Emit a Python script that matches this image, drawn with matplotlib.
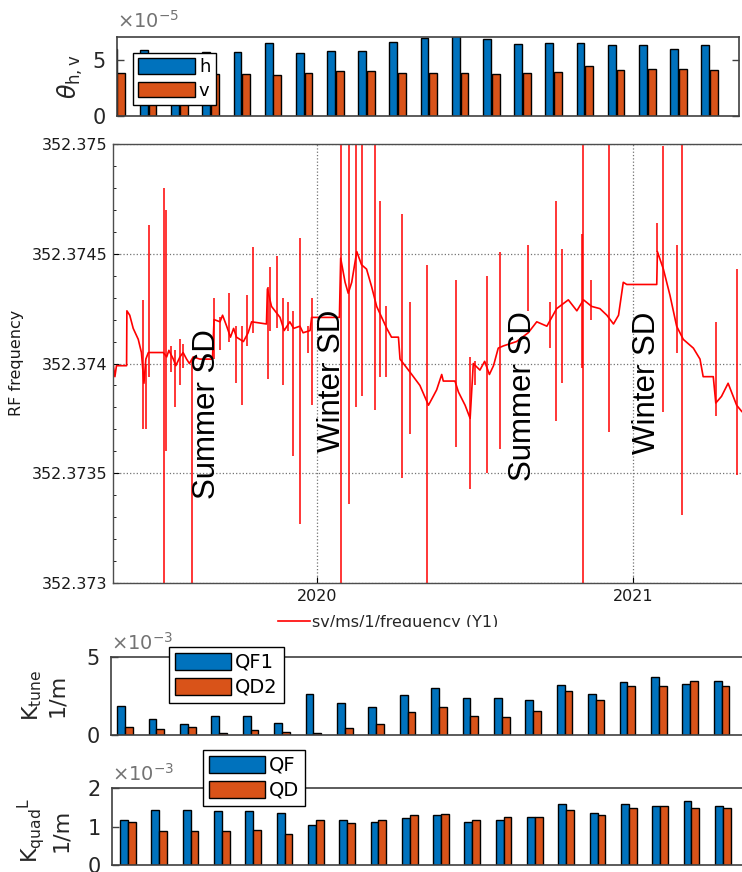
import matplotlib
matplotlib.use('Agg')
import matplotlib.pyplot as plt
from matplotlib.lines import Line2D
from matplotlib.transforms import Bbox, TransformedBbox
import numpy as np

# bar panel data (20 measurement groups)
groups = list(range(20))
# theta, units of 1e-5
theta_h = [5.90, 5.85, 5.40, 5.68, 5.65, 6.43, 5.59, 5.80, 5.80, 6.55,
           6.95, 7.10, 6.79, 6.40, 6.50, 6.50, 6.27, 6.27, 5.92, 6.27]
theta_v = [3.80, 3.70, 3.70, 3.70, 3.70, 3.59, 3.83, 3.95, 3.95, 3.83,
           3.83, 3.83, 3.74, 3.81, 3.93, 4.40, 4.05, 4.16, 4.16, 4.05]
# K_tune, units of 1e-3 1/m
k_qf1 = [1.83, 1.05, 0.69, 1.21, 1.21, 0.76, 2.64, 2.07, 1.80, 2.56,
         3.00, 2.38, 2.34, 2.26, 3.22, 2.60, 3.39, 3.73, 3.30, 3.47]
k_qd2 = [0.53, 0.36, 0.53, 0.10, 0.35, 0.19, 0.10, 0.43, 0.68, 1.45,
         1.80, 1.20, 1.13, 1.56, 2.85, 2.25, 3.13, 3.13, 3.46, 3.13]
# K_quad L, units of 1e-3 1/m
k_qf = [1.18, 1.42, 1.42, 1.40, 1.40, 1.36, 1.05, 1.16, 1.11, 1.22,
        1.29, 1.11, 1.16, 1.25, 1.58, 1.36, 1.58, 1.54, 1.65, 1.54]
k_qd = [1.12, 0.88, 0.88, 0.88, 0.91, 0.80, 1.18, 1.09, 1.18, 1.29,
        1.33, 1.18, 1.25, 1.25, 1.43, 1.29, 1.47, 1.54, 1.47, 1.47]

# RF frequency trend: (decimal year, MHz)
rf_trace = [
    (2019.354, 352.37399), (2019.359, 352.37394), (2019.364, 352.37399), (2019.396, 352.37399),
    (2019.397, 352.37424), (2019.406, 352.37422), (2019.417, 352.37416), (2019.433, 352.37411),
    (2019.443, 352.37405), (2019.451, 352.37391), (2019.457, 352.37402), (2019.465, 352.37405),
    (2019.512, 352.37405), (2019.523, 352.37403), (2019.530, 352.37406), (2019.544, 352.37402),
    (2019.552, 352.37399), (2019.565, 352.37403), (2019.575, 352.37405), (2019.586, 352.37402),
    (2019.595, 352.37400), (2019.607, 352.37403), (2019.628, 352.37402), (2019.668, 352.37402),
    (2019.673, 352.37420), (2019.692, 352.37419), (2019.700, 352.37422), (2019.713, 352.37417),
    (2019.725, 352.37412), (2019.735, 352.37416), (2019.744, 352.37412), (2019.766, 352.37410),
    (2019.781, 352.37414), (2019.792, 352.37419), (2019.839, 352.37418), (2019.842, 352.37434),
    (2019.855, 352.37426), (2019.882, 352.37421), (2019.895, 352.37415), (2019.913, 352.37419),
    (2019.925, 352.37416), (2019.945, 352.37417), (2019.955, 352.37414), (2019.977, 352.37415),
    (2019.982, 352.37421), (2020.070, 352.37421), (2020.074, 352.37448), (2020.088, 352.37437),
    (2020.098, 352.37432), (2020.109, 352.37437), (2020.125, 352.37451), (2020.140, 352.37445),
    (2020.156, 352.37443), (2020.172, 352.37435), (2020.188, 352.37426), (2020.220, 352.37416),
    (2020.235, 352.37412), (2020.257, 352.37412), (2020.262, 352.37402), (2020.294, 352.37396),
    (2020.325, 352.37390), (2020.352, 352.37381), (2020.367, 352.37385), (2020.378, 352.37388),
    (2020.394, 352.37395), (2020.399, 352.37392), (2020.436, 352.37392), (2020.447, 352.37387),
    (2020.468, 352.37381), (2020.484, 352.37375), (2020.494, 352.37400), (2020.515, 352.37397),
    (2020.530, 352.37401), (2020.545, 352.37395), (2020.558, 352.37399), (2020.573, 352.37407),
    (2020.589, 352.37408), (2020.631, 352.37410), (2020.668, 352.37414), (2020.695, 352.37419),
    (2020.727, 352.37417), (2020.758, 352.37425), (2020.795, 352.37429), (2020.822, 352.37424),
    (2020.843, 352.37429), (2020.869, 352.37426), (2020.895, 352.37425), (2020.917, 352.37422),
    (2020.938, 352.37418), (2020.954, 352.37422), (2020.969, 352.37437), (2020.980, 352.37436),
    (2021.075, 352.37436), (2021.077, 352.37451), (2021.096, 352.37443), (2021.117, 352.37431),
    (2021.138, 352.37417), (2021.159, 352.37411), (2021.191, 352.37407), (2021.212, 352.37402),
    (2021.222, 352.37394), (2021.254, 352.37394), (2021.262, 352.37382), (2021.280, 352.37385),
    (2021.301, 352.37391), (2021.328, 352.37381), (2021.345, 352.37378), (2021.371, 352.37378),
]

# spikes in the trend: (decimal year, max MHz, min MHz)
rf_spikes = [
    (2019.449, 352.37429, 352.37370), (2019.458, 352.37400, 352.37370),
    (2019.466, 352.37463, 352.37394), (2019.514, 352.37480, 352.37280),
    (2019.521, 352.37470, 352.37360), (2019.537, 352.37408, 352.37396),
    (2019.548, 352.37406, 352.37380), (2019.565, 352.37411, 352.37390),
    (2019.575, 352.37409, 352.37398), (2019.602, 352.37402, 352.37280),
    (2019.673, 352.37430, 352.37402), (2019.691, 352.37421, 352.37406),
    (2019.721, 352.37432, 352.37410), (2019.742, 352.37417, 352.37391),
    (2019.760, 352.37417, 352.37381), (2019.778, 352.37431, 352.37408),
    (2019.797, 352.37453, 352.37414), (2019.843, 352.37435, 352.37393),
    (2019.849, 352.37444, 352.37415), (2019.871, 352.37449, 352.37416),
    (2019.890, 352.37430, 352.37390), (2019.907, 352.37428, 352.37415),
    (2019.924, 352.37424, 352.37358), (2019.945, 352.37457, 352.37327),
    (2019.970, 352.37417, 352.37405), (2019.982, 352.37430, 352.37381),
    (2020.074, 352.37520, 352.37280), (2020.101, 352.37520, 352.37336),
    (2020.122, 352.37520, 352.37380), (2020.140, 352.37520, 352.37385),
    (2020.183, 352.37520, 352.37379), (2020.199, 352.37474, 352.37394),
    (2020.218, 352.37426, 352.37394), (2020.267, 352.37468, 352.37348),
    (2020.294, 352.37428, 352.37368), (2020.348, 352.37445, 352.37280),
    (2020.439, 352.37438, 352.37362), (2020.484, 352.37403, 352.37343),
    (2020.500, 352.37401, 352.37390), (2020.539, 352.37440, 352.37350),
    (2020.579, 352.37451, 352.37361), (2020.666, 352.37454, 352.37424),
    (2020.737, 352.37428, 352.37407), (2020.755, 352.37474, 352.37374),
    (2020.774, 352.37452, 352.37391), (2020.837, 352.37459, 352.37398),
    (2020.843, 352.37520, 352.37280), (2020.866, 352.37438, 352.37420),
    (2020.925, 352.37520, 352.37369), (2021.075, 352.37464, 352.37451),
    (2021.096, 352.37499, 352.37378), (2021.138, 352.37454, 352.37405),
    (2021.154, 352.37520, 352.37331), (2021.263, 352.37419, 352.37376),
    (2021.328, 352.37443, 352.37349),
]

notes = ['Summer SD', 'Winter SD', 'Summer SD', 'Winter SD']
note_t = [2019.652, 2020.047, 2020.652, 2021.044]
note_f = [352.37377, 352.37392, 352.37385, 352.37391]

freq_ticks = [352.373, 352.3735, 352.374, 352.3745, 352.375]
freq_labels = ['352.373', '352.3735', '352.374', '352.3745', '352.375']

BLUE = '#0072BD'
ORANGE = '#D95319'
AX_COL = '0.25'
W, H = 742, 872


def fx(px):
    return px / W


def fy(py):
    return 1 - py / H


def box(left, top, right, bottom):
    return [fx(left), fy(bottom), (right - left) / W, (bottom - top) / H]


def style_bar_axes(ax, yt, fs):
    for s in ax.spines.values():
        s.set_color(AX_COL)
        s.set_linewidth(1.2)
    ax.set_xticks([])
    ax.set_yticks(yt)
    ax.tick_params(axis='y', direction='in', length=5, width=1, colors=AX_COL,
                   labelsize=fs, labelcolor='0.15', pad=8, right=True)


def bar_legend(ax, loc_px, fs, hl):
    leg = ax.legend(loc='upper left', bbox_to_anchor=(fx(loc_px[0]), fy(loc_px[1])),
                    bbox_transform=fig.transFigure, borderaxespad=0, fontsize=fs,
                    handlelength=hl, handleheight=0.95, handletextpad=0.2,
                    labelspacing=0.3, borderpad=0.3, fancybox=False,
                    framealpha=1, edgecolor='black')
    leg.get_frame().set_linewidth(1.0)
    return leg


fig = plt.figure(figsize=(W / 100, H / 100), dpi=100)
x = np.array(groups)

# top panel: theta
ax1 = fig.add_axes(box(117, 37, 739, 116))
ax1.bar(x - 0.14, theta_h, 0.25, color=BLUE, edgecolor='black', linewidth=1.0, label='h')
ax1.bar(x + 0.14, theta_v, 0.25, color=ORANGE, edgecolor='black', linewidth=1.0, label='v')
ax1.set_xlim(0.0, 19.94)
ax1.set_ylim(0, 7)
style_bar_axes(ax1, [0, 5], 15)
ax1.text(0, 1.06, r'$\times\mathregular{10^{-5}}$', transform=ax1.transAxes,
         fontsize=14, color='0.45', va='bottom')
bar_legend(ax1, (133, 53), 13, 3.15)
fig.text(fx(70), fy(77), r'$\theta_{\mathrm{h,v}}$', rotation=90, ha='center',
         va='center', fontsize=17, color='0.15')

# middle panel: RF frequency trend
t_base = [p[0] for p in rf_trace]
f_base = [p[1] for p in rf_trace]
spike_t = [s[0] for s in rf_spikes]
spike_hi = [s[1] for s in rf_spikes]
spike_lo = [s[2] for s in rf_spikes]

ax2 = fig.add_axes(box(113, 144, 760, 583))
ax2.plot(t_base, f_base, color='red', lw=1.2)
ax2.vlines(spike_t, spike_lo, spike_hi, color='red', lw=1.1)
ax2.set_xlim(2019.353, 2021.402)
ax2.set_ylim(352.373, 352.375)
ax2.set_yticks(freq_ticks)
ax2.set_yticklabels(freq_labels)
ax2.set_yticks(np.arange(352.3731, 352.375, 0.0001), minor=True)
ax2.set_xticks([2020, 2021])
ax2.set_xticklabels(['2020', '2021'])
ax2.grid(True, which='major', ls=':', color='0.45', lw=0.9)
ax2.tick_params(axis='both', which='major', direction='in', length=4,
                labelsize=11.5, labelcolor='0.1', pad=4)
ax2.tick_params(axis='y', which='minor', direction='in', length=2.5)
for s in ax2.spines.values():
    s.set_color('0.3')
    s.set_linewidth(1.0)
for txt, tt, ff in zip(notes, note_t, note_f):
    ax2.text(tt, ff, txt, rotation=90, ha='center', va='center',
             fontsize=22.5, family='Liberation Sans', color='black')
fig.text(fx(17), fy(363), 'RF frequency', rotation=90, ha='center', va='center',
         fontsize=11.5, color='0.1')
fig.add_artist(Line2D([fx(278), fx(310)], [fy(621), fy(621)], color='red', lw=1.2))
lab = fig.text(fx(312), fy(627), 'sv/ms/1/frequency (Y1)', ha='left',
               va='baseline', fontsize=11.5, color='0.15')
lab.set_clip_on(True)
lab.set_clip_box(TransformedBbox(Bbox([[0, fy(627)], [1, 1]]), fig.transFigure))

# K_tune panel
ax3 = fig.add_axes(box(111, 657, 770, 735))
ax3.bar(x - 0.125, k_qf1, 0.25, color=BLUE, edgecolor='black', linewidth=1.0, label='QF1')
ax3.bar(x + 0.125, k_qd2, 0.25, color=ORANGE, edgecolor='black', linewidth=1.0, label='QD2')
ax3.set_xlim(-0.446, 20.54)
ax3.set_ylim(0, 5)
style_bar_axes(ax3, [0, 5], 15)
ax3.text(0, 1.04, r'$\times\mathregular{10^{-3}}$', transform=ax3.transAxes,
         fontsize=14, color='0.45', va='bottom')
bar_legend(ax3, (169, 647), 14, 2.9)
fig.text(fx(44), fy(695), 'K$_{\\mathregular{tune}}$\n1/m', rotation=90, ha='center',
         va='center', multialignment='center', fontsize=16, color='0.15')

# K_quad L panel
ax4 = fig.add_axes(box(112, 788, 770, 865))
ax4.bar(x - 0.125, k_qf, 0.25, color=BLUE, edgecolor='black', linewidth=1.0, label='QF')
ax4.bar(x + 0.125, k_qd, 0.25, color=ORANGE, edgecolor='black', linewidth=1.0, label='QD')
ax4.set_xlim(-0.511, 20.51)
ax4.set_ylim(0, 2)
style_bar_axes(ax4, [0, 1, 2], 15)
ax4.text(0, 1.04, r'$\times\mathregular{10^{-3}}$', transform=ax4.transAxes,
         fontsize=14, color='0.45', va='bottom')
bar_legend(ax4, (203, 750), 14, 2.9)
fig.text(fx(43), fy(830), 'K$_{\\mathregular{quad}}$$^{\\mathregular{L}}$\n1/m', rotation=90,
         ha='center', va='center', multialignment='center', fontsize=16, color='0.15')

fig.savefig('out.png', dpi=100)
